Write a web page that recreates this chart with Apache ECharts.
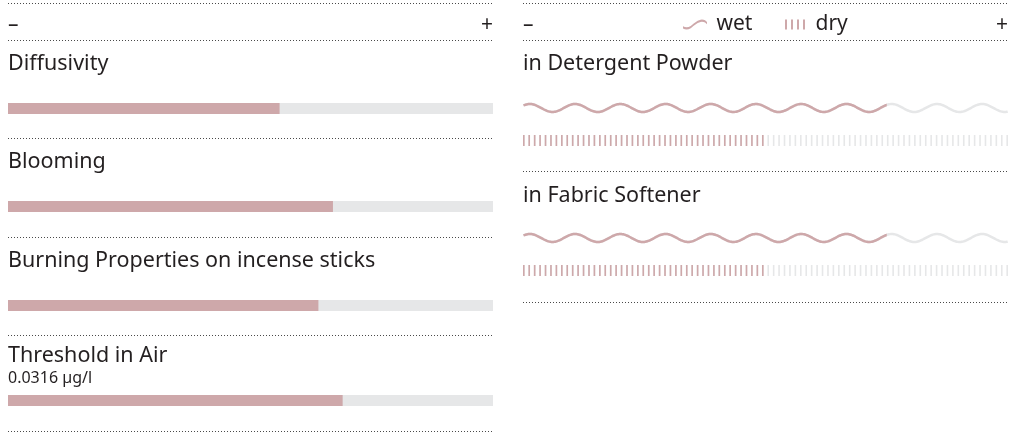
<!DOCTYPE html>
<html>
<head>
<meta charset="utf-8">
<script src="https://cdn.jsdelivr.net/npm/echarts@6/dist/echarts.min.js"></script>
<style>
  html, body { margin: 0; padding: 0; background: #fff; }
  #chart { width: 1010px; height: 435px; }
</style>
</head>
<body>
<div id="chart"></div>
<script>
// data
var leftCats = ['Diffusivity', 'Blooming', 'Burning Properties on incense sticks', 'Threshold in Air'];
var leftValues = [56, 67, 64, 69];
var leftNotes = ['', '', '', '0.0316 µg/l'];
var rightCats = ['in Detergent Powder', 'in Fabric Softener'];
var wetValues = [75, 75];
var dryValues = [50, 50];
var scaleLabels = ['–', '+'];
var legendNames = ['wet', 'dry'];

// layout (pixels)
var leftLabelY = [64, 162, 261, 356];
var leftBarTop = [103, 201, 300, 395];
var leftRules = [3, 40, 138, 237, 335, 431];
var rightLabelY = [64, 196];
var wetY = [108, 238];
var dryY = [140.5, 270.5];
var rightRules = [3, 40, 171, 302];

var RED = '#cea8aa', GREY = '#e6e7e8', INK = '#231f20';
var FONT = '"Noto Sans", sans-serif';
var PANEL_W = 485;
var HALF_T = 1.25; // half stroke thickness of the wave

// wave glyph (shape only): a filled band following a wavy centre line,
// so it survives the non-uniform scaling of pictorialBar symbols
var upper = [], lower = [];
for (var x = 0; x <= PANEL_W; x += 1) {
    var k = 2 * Math.PI / 45.3;
    var y = 4 - 4 * Math.cos(k * (x - 6.4));
    var dy = 4 * k * Math.sin(k * (x - 6.4));
    var len = Math.sqrt(1 + dy * dy);
    var nx = -dy / len * HALF_T, ny = HALF_T / len;
    upper.push((x - nx).toFixed(2) + ',' + (y - ny).toFixed(2));
    lower.unshift((x + nx).toFixed(2) + ',' + (y + ny).toFixed(2));
}
var wavePath = 'path://M' + upper.join(' L') + ' L' + lower.join(' L') + ' Z';
var wetIcon = 'path://M0,8 C3,9.5 6,9.5 9,7.5 C13,4.5 18,0 22,0 C25,0 27,1.5 28,3 L28,5.6 C27,4.1 25,2.6 22,2.6 C18,2.6 13,7.1 9,10.1 C6,12.1 3,12.1 0,10.6 Z';
var dryIcon = 'path://M0,0h2v10h-2z M6,0h2v10h-2z M12,0h2v10h-2z M18,0h2v10h-2z';

var grids = [], xAxes = [], yAxes = [], series = [];
var addGrid = function(left, top, height, name){
    grids.push({left: left, top: top, width: PANEL_W, height: height});
    var i = grids.length - 1;
    xAxes.push({gridIndex: i, type: 'value', min: 0, max: 100, show: false});
    yAxes.push({gridIndex: i, type: 'category', data: [name], show: false});
    return i;
};

//左侧进度条
leftCats.forEach(function(cat, i){
    var g = addGrid(8, leftBarTop[i], 11, cat);
    series.push({
        type: 'bar', name: cat, xAxisIndex: g, yAxisIndex: g,
        data: [leftValues[i]], barWidth: 11,
        showBackground: true, backgroundStyle: {color: GREY},
        itemStyle: {color: RED}, silent: true
    });
});

//右侧 wet / dry
rightCats.forEach(function(cat, i){
    var gw = addGrid(523, wetY[i] - 10, 20, cat);
    var waveBase = {
        type: 'pictorialBar', xAxisIndex: gw, yAxisIndex: gw,
        symbol: wavePath, symbolSize: ['100%', 8 + 2 * HALF_T],
        symbolPosition: 'start', symbolBoundingData: 100, barWidth: 20, silent: true
    };
    series.push(Object.assign({}, waveBase, {name: 'wetBg', data: [100], itemStyle: {color: GREY}}));
    series.push(Object.assign({}, waveBase, {name: 'wet', data: [wetValues[i]], symbolClip: true, itemStyle: {color: RED}}));

    var gd = addGrid(523, dryY[i] - 10, 20, cat);
    var tickBase = {
        type: 'pictorialBar', xAxisIndex: gd, yAxisIndex: gd,
        symbol: 'rect', symbolRepeat: 90, symbolSize: [1.6, 11],
        symbolPosition: 'start', symbolBoundingData: 100, barWidth: 20, silent: true
    };
    series.push(Object.assign({}, tickBase, {name: 'dryBg', data: [100], itemStyle: {color: GREY}}));
    series.push(Object.assign({}, tickBase, {name: 'dry', data: [dryValues[i]], symbolClip: true, itemStyle: {color: RED}}));
});

var text = function(x, y, str, size, align){
    return {
        type: 'text', x: x, y: y, silent: true,
        style: {text: str, fill: INK, fontSize: size, fontFamily: FONT, align: align || 'left', verticalAlign: 'middle'}
    };
};
var rule = function(x, y){
    return {
        type: 'line', silent: true,
        shape: {x1: x, y1: y + 0.5, x2: x + PANEL_W, y2: y + 0.5},
        style: {stroke: '#4a4a4a', lineWidth: 1, lineDash: [1, 2]}
    };
};

var graphics = [];
leftRules.forEach(function(y){ graphics.push(rule(8, y)); });
rightRules.forEach(function(y){ graphics.push(rule(523, y)); });
[8, 523].forEach(function(x0){
    graphics.push(text(x0, 25, scaleLabels[0], 21));
    graphics.push(text(x0 + PANEL_W, 25, scaleLabels[1], 21, 'right'));
});
leftCats.forEach(function(cat, i){
    graphics.push(text(8, leftLabelY[i], cat, 21.5));
    if (leftNotes[i]) graphics.push(text(8, leftLabelY[i] + 22, leftNotes[i], 16));
});
rightCats.forEach(function(cat, i){
    graphics.push(text(523, rightLabelY[i], cat, 21.5));
});

var chart = echarts.init(document.getElementById('chart'));
chart.setOption({
    animation: false,
    legend: [
        {data: [{name: legendNames[0], icon: wetIcon}], left: 683, top: 14, padding: 0,
         itemWidth: 29, itemHeight: 10, selectedMode: false,
         textStyle: {fontSize: 21, color: INK, fontFamily: FONT, padding: [0, 0, 0, 2]}},
        {data: [{name: legendNames[1], icon: dryIcon}], left: 785, top: 14, padding: 0,
         itemWidth: 21, itemHeight: 10, selectedMode: false,
         textStyle: {fontSize: 21, color: INK, fontFamily: FONT, padding: [0, 0, 0, 5]}}
    ],
    grid: grids,
    xAxis: xAxes,
    yAxis: yAxes,
    series: series,
    graphic: graphics
});
</script>
</body>
</html>
